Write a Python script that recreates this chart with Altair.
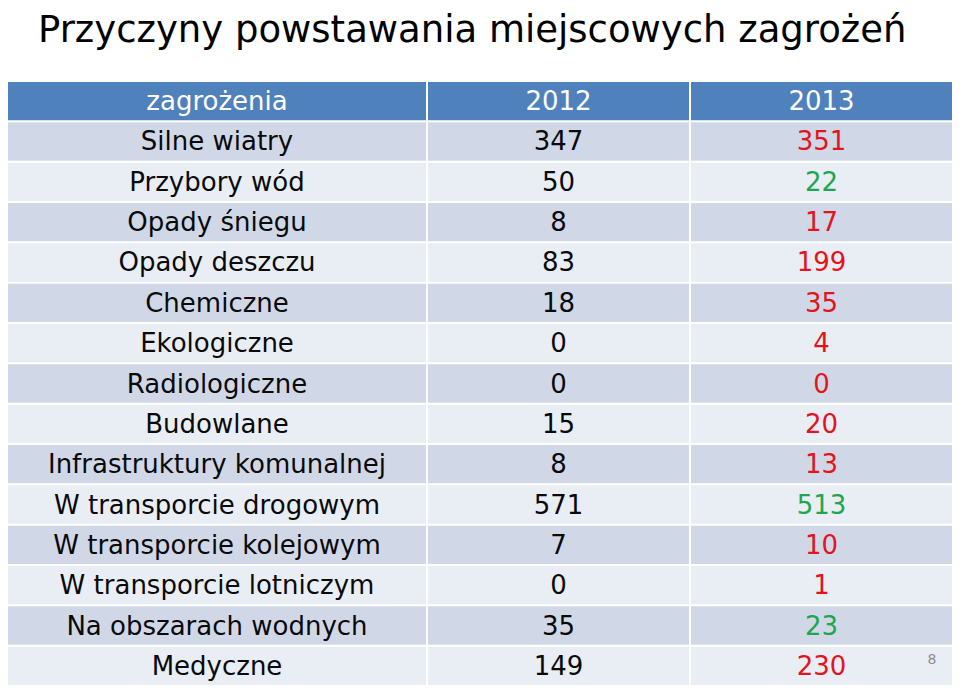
import altair as alt
import pandas as pd

title_text = "Przyczyny powstawania miejscowych zagrożeń"
headers = ["zagrożenia", "2012", "2013"]
categories = [
    "Silne wiatry", "Przybory wód", "Opady śniegu", "Opady deszczu",
    "Chemiczne", "Ekologiczne", "Radiologiczne", "Budowlane",
    "Infrastruktury komunalnej", "W transporcie drogowym",
    "W transporcie kolejowym", "W transporcie lotniczym",
    "Na obszarach wodnych", "Medyczne",
]
v2012 = [347, 50, 8, 83, 18, 0, 0, 15, 8, 571, 7, 0, 35, 149]
v2013 = [351, 22, 17, 199, 35, 4, 0, 20, 13, 513, 10, 1, 23, 230]
page_number = "8"

FONT = "DejaVu Sans"
FS = 26
TOTAL_H = 603


def column_df(col):
    recs = [{"row": 0, "text": headers[col], "fill": "h", "tcol": "w"}]
    for i, cat in enumerate(categories):
        if col == 0:
            t, tc = cat, "k"
        elif col == 1:
            t, tc = str(v2012[i]), "k"
        else:
            t = str(v2013[i])
            tc = "r" if v2013[i] >= v2012[i] else "g"
        recs.append({"row": i + 1, "text": t,
                     "fill": "d" if i % 2 == 0 else "l", "tcol": tc})
    return pd.DataFrame(recs)


yenc = alt.Y("row:O", axis=None,
             scale=alt.Scale(paddingInner=0.05, paddingOuter=0))
fill_scale = alt.Scale(domain=["h", "d", "l"],
                       range=["#4F81BD", "#D0D8E8", "#E9EDF4"])
text_scale = alt.Scale(domain=["w", "k", "r", "g"],
                       range=["#FFFFFF", "#0A0A0A", "#E3141C", "#1EA64F"])


def panel(col, width):
    df = column_df(col)
    base = alt.Chart(df)
    rect = base.mark_rect().encode(
        y=yenc,
        fill=alt.Fill("fill:N", scale=fill_scale, legend=None),
    )
    txt = base.mark_text(font=FONT, fontSize=FS, baseline="middle",
                         align="center", dy=1).encode(
        y=yenc,
        text="text:N",
        color=alt.Color("tcol:N", scale=text_scale, legend=None),
    )
    layers = [rect, txt]
    if col == 2:
        pn = alt.Chart(pd.DataFrame({"row": [len(categories)],
                                     "text": [page_number]})).mark_text(
            font=FONT, fontSize=14, color="#8C8C8C", align="center",
            baseline="middle", dy=-6).encode(
            y=yenc, x=alt.value(width - 20), text="text:N")
        layers.append(pn)
    return alt.layer(*layers).resolve_scale(
        color="independent", fill="independent"
    ).properties(width=width, height=TOTAL_H)


chart = alt.hconcat(
    panel(0, 418), panel(1, 261), panel(2, 261), spacing=2
).properties(
    title=alt.TitleParams(title_text, anchor="start", font=FONT,
                          fontSize=37, fontWeight="normal", color="#000000",
                          dx=30, offset=32),
    padding={"top": 4, "left": 0, "right": 0, "bottom": 0},
).configure_view(stroke=None).configure_concat(spacing=2)

chart.save("out.html", embed_options={"renderer": "svg", "actions": False})
